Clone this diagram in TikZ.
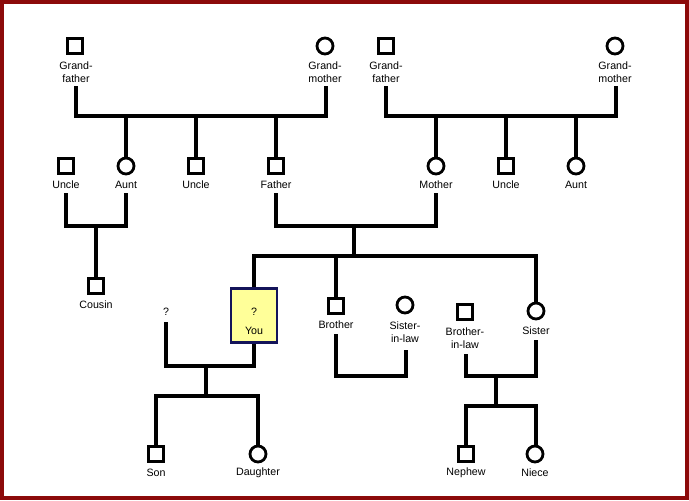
\documentclass[tikz,border=0pt]{standalone}
\usepackage{fontspec}
\setmainfont{Liberation Sans}
\begin{document}
\begin{tikzpicture}[x=0.75pt,y=-0.75pt,
  ln/.style={line width=2.4pt},
  m/.style={draw,line width=2.1pt,minimum size=11pt,inner sep=0pt,fill=white},
  f/.style={draw,circle,line width=2.1pt,minimum size=12pt,inner sep=0pt,fill=white},
  lb/.style={font=\fontsize{8}{10}\selectfont,align=center,inner sep=0pt}]
\fill[white] (0,0) rectangle (689,500);
\draw[line width=2.8pt,color={rgb,255:red,140;green,10;blue,10}] (2,2) rectangle (687,498);
% lines first
\draw[ln] (76,86)--(76,116)--(326,116)--(326,86);
\draw[ln] (126,116)--(126,160) (196,116)--(196,160) (276,116)--(276,160);
\draw[ln] (386,86)--(386,116)--(616,116)--(616,86);
\draw[ln] (436,116)--(436,160) (506,116)--(506,160) (576,116)--(576,160);
\draw[ln] (66,193)--(66,226)--(126,226)--(126,193) (96,226)--(96,280);
\draw[ln] (276,193)--(276,226)--(436,226)--(436,193) (354,226)--(354,256);
\draw[ln] (254,290)--(254,256)--(536,256)--(536,305) (336,256)--(336,300);
\draw[ln] (336,334)--(336,376)--(406,376)--(406,350);
\draw[ln] (466,354)--(466,376)--(536,376)--(536,340) (496,376)--(496,406);
\draw[ln] (466,448)--(466,406)--(536,406)--(536,448);
\draw[ln] (166,322)--(166,366)--(254,366)--(254,340) (206,366)--(206,396);
\draw[ln] (156,448)--(156,396)--(258,396)--(258,448);
% symbols
\node[m] (gf1) at (75,46) {}; \node[lb] at (76,72) {Grand-\\father};
\node[f] (gm1) at (325,46) {}; \node[lb] at (325,72) {Grand-\\mother};
\node[m] (gf2) at (386,46) {}; \node[lb] at (386,72) {Grand-\\father};
\node[f] (gm2) at (615,46) {}; \node[lb] at (615,72) {Grand-\\mother};
\node[m] (u1) at (66,166) {}; \node[lb] at (66,185) {Uncle};
\node[f] (a1) at (126,166) {}; \node[lb] at (126,185) {Aunt};
\node[m] (u2) at (196,166) {}; \node[lb] at (196,185) {Uncle};
\node[m] (fa) at (276,166) {}; \node[lb] at (276,185) {Father};
\node[f] (mo) at (436,166) {}; \node[lb] at (436,185) {Mother};
\node[m] (u3) at (506,166) {}; \node[lb] at (506,185) {Uncle};
\node[f] (a2) at (576,166) {}; \node[lb] at (576,185) {Aunt};
\node[m] (co) at (96,286) {}; \node[lb] at (96,305) {Cousin};
\node[draw={rgb,255:red,20;green,20;blue,90},line width=2.1pt,fill={rgb,255:red,255;green,255;blue,153},minimum width=34.5pt,minimum height=40.5pt,inner sep=0pt] (you) at (254,315.5) {};
\node[lb] at (254,312) {?}; \node[lb] at (254,331) {You};
\node[lb] (q) at (166,312) {?};
\node[m] (br) at (336,306) {}; \node[lb] at (336,325) {Brother};
\node[f] (sil) at (405,305) {}; \node[lb] at (405,332) {Sister-\\in-law};
\node[m] (bil) at (465,312) {}; \node[lb] at (465,338) {Brother-\\in-law};
\node[f] (si) at (536,311) {}; \node[lb] at (536,331) {Sister};
\node[m] (ne) at (466,454) {}; \node[lb] at (466,473) {Nephew};
\node[f] (ni) at (535,454) {}; \node[lb] at (535,473) {Niece};
\node[m] (so) at (156,454) {}; \node[lb] at (156,473) {Son};
\node[f] (da) at (258,454) {}; \node[lb] at (258,473) {Daughter};
\end{tikzpicture}
\end{document}
